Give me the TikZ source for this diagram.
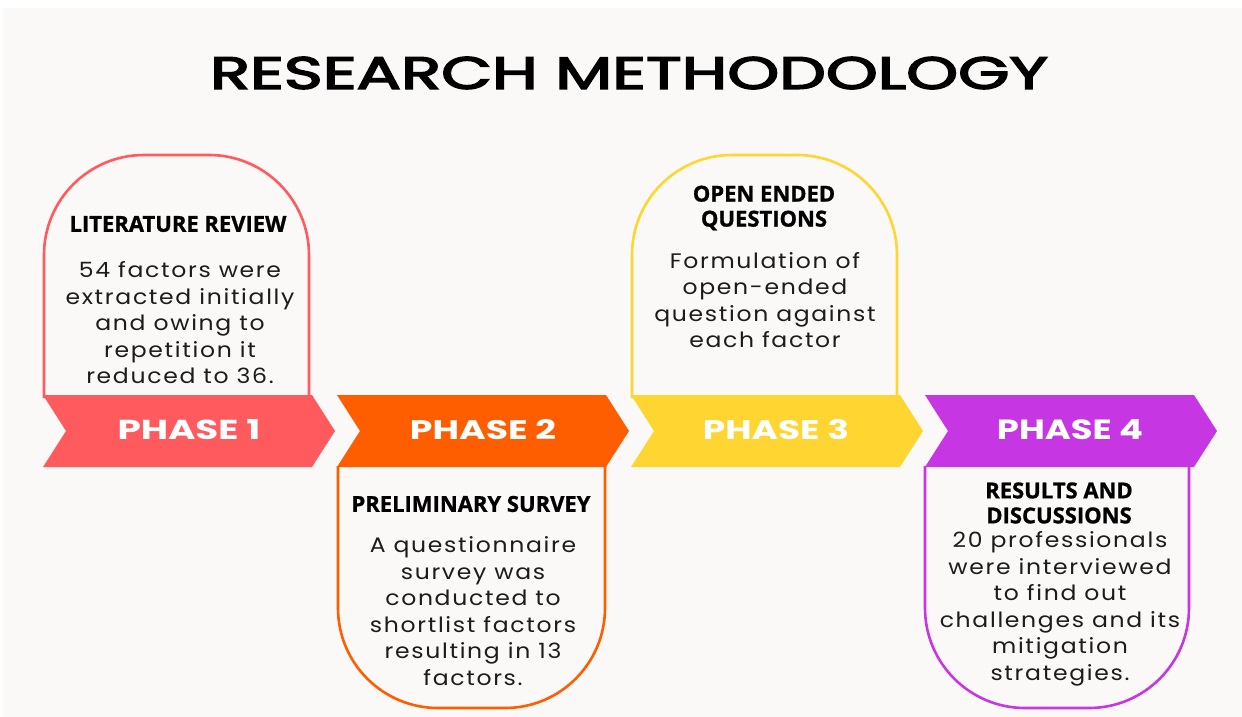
\documentclass[tikz,border=0pt]{standalone}
\usepackage{fontspec}
\setmainfont{Poppins}
\newfontfamily\titlefont[FakeBold=3]{Poppins}
\newfontfamily\phasefont{Poppins}
\newfontfamily\headfont[BoldFeatures={FakeBold=1}]{Open Sans}
\newfontfamily\bodyfont[FakeStretch=1.12,LetterSpace=8]{Poppins}

\definecolor{pageoff}{RGB}{251,249,247}
\definecolor{phaseA}{RGB}{255,90,94}
\definecolor{phaseB}{RGB}{255,94,0}
\definecolor{phaseC}{RGB}{255,213,49}
\definecolor{phaseD}{RGB}{198,54,226}
\definecolor{ink}{RGB}{28,28,28}

\tikzset{
  archline/.style={line width=2.6pt, rounded corners=100pt},
  headtext/.style={inner sep=0pt, align=center, text=black,
    font=\headfont\bfseries\fontsize{22}{25}\selectfont},
  bodytext/.style={inner sep=0pt, align=center, text=ink,
    font=\bodyfont\fontsize{21}{26.5}\selectfont},
  phasetext/.style={inner sep=0pt, text=white},
}

% chevron with its left corner at x=#1
\newcommand{\chevron}[2]{%
  \fill[#2] (#1,395) -- ++(269,0) -- ++(23,36) -- ++(-23,36) -- ++(-269,0) -- ++(23,-36) -- cycle;}

\begin{document}
\begin{tikzpicture}[x=1pt,y=-1pt]
  \useasboundingbox (0,0) rectangle (1242,717);
  \fill[white] (0,0) rectangle (1242,717);
  \fill[pageoff] (3,8) rectangle (1242,717);

  % title
  \node[inner sep=0pt] (title) at (629,73)
    {\resizebox{838pt}{32pt}{\titlefont RESEARCH METHODOLOGY}};

  % arched frames: phases 1 and 3 above the band, 2 and 4 below it
  \draw[archline, phaseA] (44,398) -- (44,155) -- (309,155) -- (309,398);
  \draw[archline, phaseB] (338,466) -- (338,708) -- (605,708) -- (605,466);
  \draw[archline, phaseC] (632,398) -- (632,155) -- (897,155) -- (897,398);
  \draw[archline, phaseD] (925,466) -- (925,708) -- (1189,708) -- (1189,466);

  % the phase band
  \chevron{43}{phaseA}
  \chevron{337}{phaseB}
  \chevron{631}{phaseC}
  \chevron{925}{phaseD}

  \node[phasetext] (p1) at (189,430) {\resizebox{143pt}{20pt}{\phasefont\bfseries PHASE 1}};
  \node[phasetext] (p2) at (483,430) {\resizebox{146pt}{20pt}{\phasefont\bfseries PHASE 2}};
  \node[phasetext] (p3) at (776,430) {\resizebox{146pt}{20pt}{\phasefont\bfseries PHASE 3}};
  \node[phasetext] (p4) at (1070,430) {\resizebox{146pt}{20pt}{\phasefont\bfseries PHASE 4}};

  % phase 1
  \node[headtext] (h1) at (178,224) {LITERATURE REVIEW};
  \node[bodytext] (b1) at (180,323) {54 factors were\\extracted initially\\and owing to\\repetition it\\reduced to 36.};

  % phase 2
  \node[headtext] (h2) at (471,504) {PRELIMINARY SURVEY};
  \node[bodytext] (b2) at (473,611) {A questionnaire\\survey was\\conducted to\\shortlist factors\\resulting in 13\\factors.};

  % phase 3
  \node[headtext] (h3) at (764,208) {OPEN ENDED\\QUESTIONS};
  \node[bodytext] (b3) at (765,300) {Formulation of\\open-ended\\question against\\each factor};

  % phase 4
  \node[headtext] (h4) at (1059,503) {RESULTS AND\\DISCUSSIONS};
  \node[bodytext] (b4) at (1060,609) {20 professionals\\were interviewed\\to find out\\challenges and its\\mitigation\\strategies.};
\end{tikzpicture}
\end{document}
